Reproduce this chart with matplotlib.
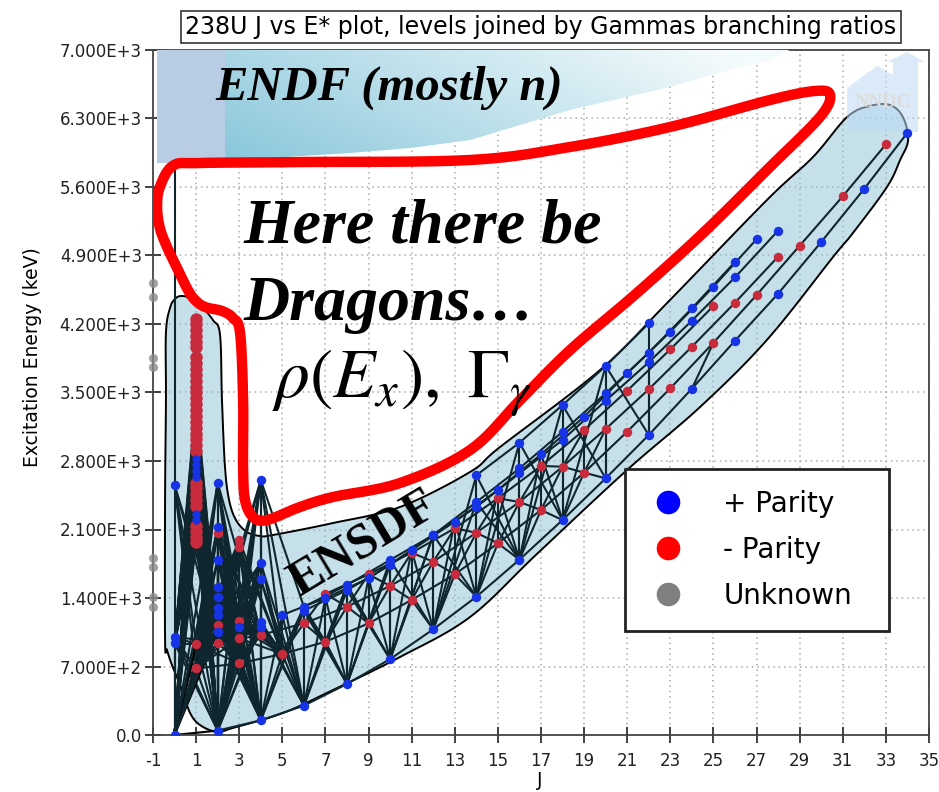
import numpy as np
import matplotlib
matplotlib.use("Agg")
import matplotlib.pyplot as plt
from matplotlib.patches import Polygon
from matplotlib.lines import Line2D
from matplotlib.collections import LineCollection
from matplotlib.ticker import FuncFormatter

plt.rcParams["mathtext.fontset"] = "stix"
plt.rcParams["axes.unicode_minus"] = False

# --- 238U levels: spin J and excitation energy (keV), grouped by band ---
gsb_j = [0, 2, 4, 6, 8, 10, 12, 14, 16, 18, 20, 22, 24, 26, 28, 30, 32, 34]
gsb_e = [0, 45, 150, 300, 522, 776, 1080, 1413, 1792, 2197, 2623, 3066, 3539, 4029, 4510, 5038, 5583, 6155]

oct_j = [1, 3, 5, 7, 9, 11, 13, 15, 17, 19, 21, 23, 25, 27, 29, 31, 33]
oct_e = [680, 732, 828, 953, 1141, 1380, 1642, 1959, 2299, 2681, 3100, 3543, 4009, 4496, 5000, 5505, 6036]

r2_j = [7, 9, 11, 13, 15, 17, 19, 21, 23, 25]
r2_e = [1441, 1642, 1863, 2112, 2419, 2749, 3117, 3519, 3941, 4384]

r3_j = [2, 4, 6, 8, 10, 12, 14, 16, 18, 20, 22, 24, 26, 28]
r3_e = [943, 1022, 1141, 1311, 1523, 1771, 2067, 2381, 2742, 3127, 3533, 3968, 4418, 4888]

b1_j = [6, 8, 10, 12, 14, 16, 18, 20, 22, 24, 26, 28]
b1_e = [1270, 1480, 1737, 2044, 2330, 2674, 3015, 3416, 3809, 4234, 4677, 5154]

b2_j = [5, 7, 9, 11, 13, 15, 17, 19, 21, 23, 25, 27]
b2_e = [1226, 1400, 1600, 1890, 2180, 2504, 2868, 3253, 3696, 4121, 4581, 5066]

b3_j = [14, 16, 18, 20, 22]
b3_e = [2654, 2987, 3372, 3771, 4207]

b4_j = [6, 8, 10, 12, 14, 16, 18, 20, 22, 24, 26]
b4_e = [1311, 1533, 1788, 2044, 2380, 2725, 3100, 3492, 3907, 4360, 4834]

# low-spin levels outside the bands
low_plus_j = [0, 0, 0, 0, 2, 2, 2, 2, 2, 2, 2, 2, 3, 4, 4, 4, 4, 4]
low_plus_e = [937, 1005, 2555, 6150, 1056, 1226, 1294, 1413, 1516, 1788, 2129, 2578, 1100, 1107, 1158, 1591, 1761, 2606]
low_minus_j = [1, 2, 2, 3, 3, 3, 3]
low_minus_e = [927, 1124, 2061, 988, 1168, 1921, 1993]

# the dense run of J=1 levels
col1_minus_e = [1970, 2020, 2080, 2140, 2340, 2400, 2460, 2520, 2580, 2900, 2960, 3020, 3080,
                3140, 3200, 3260, 3320, 3380, 3440, 3500, 3560, 3620, 3680, 3740, 3800, 3860,
                3960, 4020, 4080, 4140, 4200, 4250]
col1_plus_e = [2200, 2260, 2640, 2700, 2760, 2820]

# levels with unknown parity
unk_j = [-1, -1, -1, -1, -1, -1, -1, -1]
unk_e = [4620, 4480, 3850, 3760, 1810, 1720, 1410, 1310]

bands = {
    "gsb": (gsb_j, gsb_e, "+"),
    "oct": (oct_j, oct_e, "-"),
    "r2": (r2_j, r2_e, "-"),
    "r3": (r3_j, r3_e, "-"),
    "b1": (b1_j, b1_e, "+"),
    "b2": (b2_j, b2_e, "+"),
    "b3": (b3_j, b3_e, "+"),
    "b4": (b4_j, b4_e, "+"),
}

# interband gammas: (from band, to band, delta J, highest initial J)
cross_links = [
    ("oct", "gsb", -1, 20), ("oct", "gsb", 1, 20),
    ("b4", "gsb", 0, 22), ("b4", "gsb", -2, 14), ("b4", "gsb", 2, 14),
    ("b3", "gsb", 0, 22), ("b3", "gsb", -2, 20), ("b3", "gsb", 2, 20),
    ("b1", "gsb", 0, 12), ("b1", "gsb", -2, 12), ("b1", "gsb", 2, 8),
    ("b2", "gsb", -1, 17), ("b2", "gsb", 1, 17),
    ("r3", "oct", -1, 20), ("r3", "oct", 1, 18),
    ("r2", "oct", 0, 19), ("r2", "r3", -1, 19), ("r2", "r3", 1, 17),
    ("b2", "oct", 0, 9), ("b4", "oct", -1, 8), ("b4", "oct", 1, 8),
]

extra_gammas = [((0, 6150), (0, 2555)), ((4, 2606), (6, 1311)), ((4, 2606), (4, 1761)),
                ((25, 4009), (24, 3539))]

# annotation outlines in (J, keV)
ensdf_outline = [
    (-0.44, 971), (-0.44, 2401), (-0.40, 3423), (-0.40, 4108), (-0.21, 4364), (0.02, 4456),
    (0.30, 4486), (0.72, 4466), (1.18, 4394), (1.78, 4241), (2.11, 4088), (2.20, 3423),
    (2.34, 2739), (2.53, 2401), (2.85, 2197), (3.36, 2074), (3.96, 2034), (4.57, 2044),
    (7.35, 2166), (10.46, 2330), (13.71, 2688), (15.10, 2943), (19.74, 3730), (22.85, 4415),
    (27.48, 5467), (29.62, 5907), (31.20, 6315), (32.26, 6428), (33.19, 6438), (33.79, 6315),
    (34.03, 6080), (33.66, 5876), (33.05, 5600), (31.47, 5130), (30.55, 4885), (27.48, 4037),
    (24.38, 3352), (20.99, 2708), (16.81, 1850), (13.71, 1206), (10.46, 797), (7.35, 460),
    (5.03, 225), (2.71, 72), (1.97, 31), (1.18, 102), (0.72, 225), (0.35, 460), (-0.12, 715),
    (-0.35, 869),
]
red_outline = [
    (-0.81, 5396), (-0.68, 5600), (-0.07, 5818), (1.18, 5845), (5.82, 5855), (13.71, 5876),
    (18.35, 6009), (22.98, 6213), (27.62, 6489), (29.71, 6581), (30.41, 6540), (29.94, 6315),
    (27.62, 5804), (24.52, 5130), (21.45, 4517), (18.35, 3934), (16.03, 3423), (13.71, 2912),
    (10.46, 2575), (7.35, 2432), (5.82, 2330), (4.29, 2197), (3.64, 2228), (3.27, 2401),
    (3.18, 2739), (3.18, 3423), (3.04, 4108), (2.71, 4261), (2.20, 4333), (1.41, 4374),
    (0.95, 4445), (0.62, 4548), (0.16, 4752), (-0.35, 4987), (-0.68, 5181),
]
endf_edge = [(2.34, 7000), (28.55, 7000), (28.3, 6980), (27.62, 6898), (25.3, 6770),
             (22.98, 6622), (18.35, 6387), (13.71, 6080), (11.0, 6000), (8.14, 5947),
             (5.0, 5905), (2.34, 5876)]
nndc_logo = [(31.2, 6162), (31.2, 6612), (32.59, 6837), (33.33, 6745), (33.33, 6877),
             (33.05, 6877), (33.98, 6980), (34.81, 6877), (34.49, 6877), (34.49, 6162)]

BLUE = "#1633e6"
RED = "#c82b3c"
LINE = "#10262e"


def smooth_closed(pts, n=14):
    # closed Catmull-Rom spline through the outline points
    p = np.asarray(pts, float)
    t = np.linspace(0, 1, n, endpoint=False)[:, None]
    out = []
    for i in range(len(p)):
        p0, p1, p2, p3 = p[i - 1], p[i], p[(i + 1) % len(p)], p[(i + 2) % len(p)]
        out.append(0.5 * (2 * p1 + (p2 - p0) * t + (2 * p0 - 5 * p1 + 4 * p2 - p3) * t ** 2
                          + (3 * p1 - p0 - 3 * p2 + p3) * t ** 3))
    return np.vstack(out)


def e_label(v, pos):
    if v == 0:
        return "0.0"
    ex = int(np.floor(np.log10(v)))
    return "%.3fE+%d" % (v / 10 ** ex, ex)


# --- gamma list ---
gammas = []
for name, (js, es, par) in bands.items():
    for k in range(1, len(js)):
        gammas.append((js[k], es[k], js[k - 1], es[k - 1]))

for src, dst, dj, jmax in cross_links:
    lookup = dict(zip(bands[dst][0], bands[dst][1]))
    for j, e in zip(bands[src][0], bands[src][1]):
        if j <= jmax and (j + dj) in lookup and lookup[j + dj] < e:
            gammas.append((j, e, j + dj, lookup[j + dj]))

targets = [(j, e) for j, e in zip(gsb_j, gsb_e) if j <= 6] + \
          [(j, e) for j, e in zip(oct_j, oct_e) if j <= 5] + \
          [(j, e) for j, e in zip(r3_j, r3_e) if j <= 4] + \
          [(j, e) for j, e in zip(low_minus_j, low_minus_e) if e < 1200]
for j, e in zip(low_plus_j + low_minus_j, low_plus_e + low_minus_e):
    if e > 2700:
        continue
    for tj, te in targets:
        if abs(tj - j) <= 2 and te < e:
            gammas.append((j, e, tj, te))

for e in col1_minus_e + col1_plus_e:
    if e < 3460:
        gammas.append((1, e, 0, 0))
        gammas.append((1, e, 2, 45))
        gammas.append((1, e, 0, 937))
        gammas.append((1, e, 2, 1056))

for (ji, ei), (jf, ef) in extra_gammas:
    gammas.append((ji, ei, jf, ef))

segs = [[(a, b), (c, d)] for a, b, c, d in gammas]
seg_colors = ["black" if (d == 0 and b < 1100) else LINE for a, b, c, d in gammas]

# --- figure ---
fig = plt.figure(figsize=(9.39, 7.92), dpi=100)
ax = fig.add_axes([153 / 939, 57 / 792, 776 / 939, 685 / 792])

ax.set_axisbelow(True)
ax.grid(True, color="#aaaaaa", linestyle=(0, (1, 2.5)), linewidth=1.1)

# ENSDF band
xy = smooth_closed(ensdf_outline)
ax.add_patch(Polygon(xy, closed=True, facecolor=(0.56, 0.76, 0.83, 0.5),
                     edgecolor="black", linewidth=1.4, zorder=1))

ax.add_collection(LineCollection(segs, colors=seg_colors, linewidths=1.5, zorder=2))

plus_j = [j for js, es, p in bands.values() if p == "+" for j in js] + low_plus_j
plus_e = [e for js, es, p in bands.values() if p == "+" for e in es] + low_plus_e
minus_j = [j for js, es, p in bands.values() if p == "-" for j in js] + low_minus_j
minus_e = [e for js, es, p in bands.values() if p == "-" for e in es] + low_minus_e

ax.plot(minus_j, minus_e, "o", color=RED, ms=6.8, mew=0, zorder=3)
ax.plot([1] * len(col1_minus_e), col1_minus_e, "o", color=RED, ms=9, mew=0, zorder=3)
ax.plot(plus_j, plus_e, "o", color=BLUE, ms=6.8, mew=0, zorder=3.2)
ax.plot([1] * len(col1_plus_e), col1_plus_e, "o", color=BLUE, ms=6, mew=0, zorder=3.2)
ax.plot(unk_j, unk_e, "o", color="#8a8a8a", ms=6.5, mew=0, zorder=3, clip_on=False, alpha=0.8)

# NNDC logo
ax.add_patch(Polygon(nndc_logo, closed=True, facecolor="#bcdaf5", edgecolor="none",
                     alpha=0.55, zorder=1.5))
ax.text(32.87, 6459, "NNDC", family="Liberation Serif", weight="bold", fontsize=14,
        color="#dcdcdc", ha="center", va="center", zorder=1.6)

# ENDF block at the top
ax.add_patch(Polygon([(-0.81, 5845), (2.34, 5845), (2.34, 7000), (-0.81, 7000)],
                     closed=True, facecolor="#b8cce3", edgecolor="none", zorder=4))
u = np.linspace(0, 1, 300)[None, :, None]
v = np.linspace(0, 1, 60)[:, None, None]
s = np.clip(0.8 * u + 0.3 * v, 0, 1)
c0 = np.array([0.54, 0.78, 0.86])
c1 = np.array([0.96, 0.985, 0.99])
grad = c0 + (c1 - c0) * s
endf_patch = Polygon(endf_edge, closed=True, facecolor="none", edgecolor="none", zorder=4)
ax.add_patch(endf_patch)
im = ax.imshow(grad, extent=[2.34, 28.55, 5876, 7000], origin="lower", aspect="auto",
               zorder=4, interpolation="bilinear")
im.set_clip_path(endf_patch)

# red contour
rxy = smooth_closed(red_outline)
ax.add_patch(Polygon(rxy, closed=True, facecolor="none", edgecolor="#ff0000",
                     linewidth=7.5, joinstyle="round", zorder=5))

serif = "Liberation Serif"
ax.text(1.88, 6489, "ENDF (mostly n)", family=serif, weight="bold", style="italic",
        fontsize=35, ha="left", va="baseline", zorder=6)
ax.text(3.18, 5028, "Here there be", family=serif, weight="bold", style="italic",
        fontsize=46, ha="left", va="baseline", zorder=6)
ax.text(3.18, 4241, "Dragons\u2026", family=serif, weight="bold", style="italic",
        fontsize=46, ha="left", va="baseline", zorder=6)
ax.text(4.52, 3444, r"$\rho(E_x),\ \Gamma_\gamma$", fontsize=50, ha="left", va="baseline",
        zorder=6)
ax.text(8.75, 1950, "ENSDF", family=serif, weight="bold", fontsize=36, rotation=31,
        rotation_mode="anchor", ha="center", va="center", zorder=6)

ax.set_xlim(-1, 35)
ax.set_ylim(0, 7000)
ax.set_xticks(range(-1, 36, 2))
ax.set_yticks(range(0, 7001, 700))
ax.yaxis.set_major_formatter(FuncFormatter(e_label))
ax.tick_params(direction="inout", length=12, width=1.2, labelsize=12, colors="#222222")
ax.tick_params(axis="x", pad=6)
ax.tick_params(axis="y", pad=2)
for sp in ax.spines.values():
    sp.set_color("#444444")
    sp.set_linewidth(1.3)

handles = [Line2D([], [], marker="o", ls="none", color="#0000ff", ms=16),
           Line2D([], [], marker="o", ls="none", color="#ff0000", ms=16),
           Line2D([], [], marker="o", ls="none", color="#808080", ms=16)]
leg = ax.legend(handles, ["+ Parity", "- Parity", "Unknown"], loc="upper left",
                bbox_to_anchor=(0.608, 0.159, 0.34, 0.229), mode="expand", borderaxespad=0,
                fontsize=20, handlelength=1.6, handletextpad=1.2, borderpad=0.75,
                labelspacing=0.65, fancybox=False, framealpha=1, edgecolor="#222222")
leg.get_frame().set_linewidth(2)
leg.set_zorder(7)

fig.text(541 / 939, 1 - 27 / 792, "238U J vs E* plot, levels joined by Gammas branching ratios",
         ha="center", va="center", fontsize=17,
         bbox=dict(boxstyle="square,pad=0.18", facecolor="white", edgecolor="#333333", lw=1.2))
fig.text(33 / 939, 1 - 357 / 792, "Excitation Energy (keV)", rotation=90, ha="center",
         va="center", fontsize=13.5)
fig.text(540 / 939, 1 - 781 / 792, "J", ha="center", va="center", fontsize=13.5)

fig.savefig("out.png", dpi=100)
